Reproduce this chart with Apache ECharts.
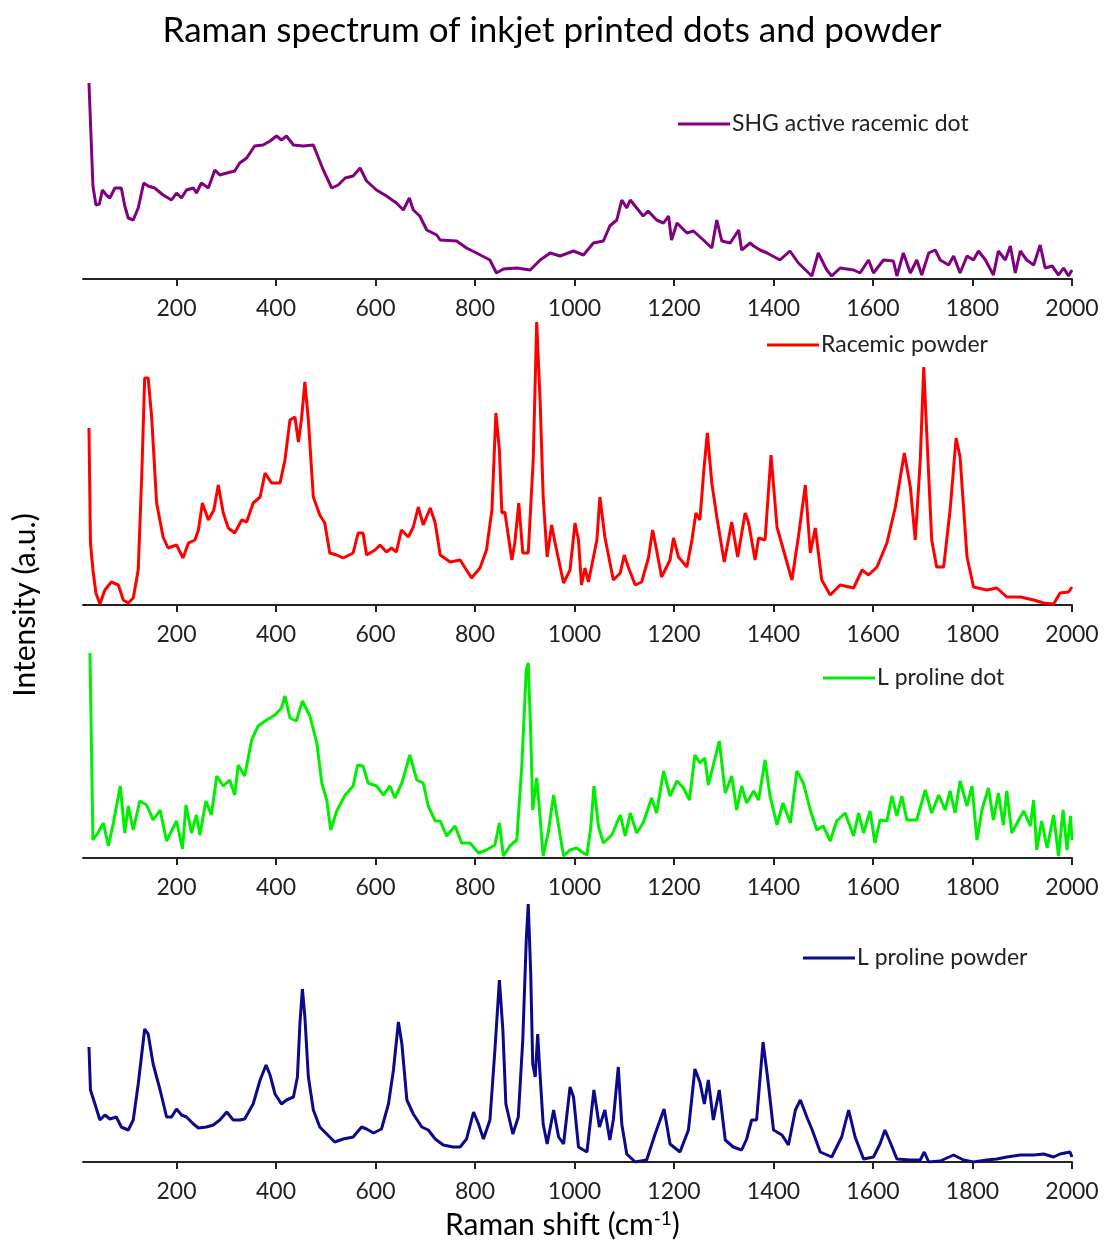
<!DOCTYPE html>
<html><head><meta charset="utf-8">
<script src="https://cdn.jsdelivr.net/npm/echarts@6/dist/echarts.min.js"></script>
<style>html,body{margin:0;padding:0;background:#fff}#c{width:1104px;height:1245px}</style>
</head><body><div id="c"></div>
<script>
// ---- data ----
const tickValues = [200,400,600,800,1000,1200,1400,1600,1800,2000];
const seriesNames = ['SHG active racemic dot','Racemic powder','L proline dot','L proline powder'];
const seriesColors = ['#800080','#ff0000','#00ee00','#0a0a8a'];

const shgDot = [[24,196],[32,93],[38,74],[45,75],[51,89],[59,84],[66,81],[76,91],[89,91],[96,73],[103,61],[113,59],[123,71],[134,96],[143,93],[156,91],[173,84],[190,79],[200,86],[210,81],[220,89],[234,91],[240,86],[250,96],[264,91],[277,109],[287,104],[301,106],[317,108],[327,116],[341,121],[357,133],[374,134],[388,138],[401,143],[411,139],[421,143],[435,134],[455,133],[475,134],[495,109],[512,91],[525,94],[539,101],[555,103],[569,111],[582,98],[602,89],[622,83],[642,76],[656,69],[668,81],[676,69],[689,63],[703,49],[723,44],[730,39],[763,38],[783,31],[803,26],[830,19],[843,6],[857,10],[884,11],[911,9],[931,19],[951,26],[971,23],[998,28],[1018,24],[1038,36],[1058,38],[1071,53],[1085,59],[1095,79],[1105,71],[1112,79],[1125,71],[1138,63],[1148,68],[1165,59],[1179,56],[1189,63],[1195,39],[1206,56],[1226,46],[1239,48],[1259,39],[1276,31],[1286,59],[1296,38],[1313,36],[1330,49],[1336,29],[1353,36],[1360,33],[1373,29],[1387,26],[1413,19],[1433,28],[1450,16],[1477,3],[1490,26],[1507,9],[1517,3],[1534,11],[1561,9],[1574,6],[1591,19],[1601,6],[1621,19],[1641,18],[1648,3],[1661,26],[1675,6],[1688,19],[1698,4],[1712,26],[1725,29],[1735,19],[1752,14],[1762,23],[1775,6],[1789,23],[1802,19],[1812,28],[1826,19],[1842,4],[1852,28],[1866,19],[1876,33],[1886,6],[1896,28],[1909,19],[1923,14],[1936,34],[1946,11],[1960,13],[1973,4],[1983,11],[1993,3],[2000,9]];

const racemicPowder = [[24,177],[27,62],[32,35],[38,12],[46,1],[56,15],[69,23],[83,20],[93,5],[103,2],[113,7],[123,35],[130,128],[136,227],[143,227],[150,188],[160,102],[173,68],[183,57],[200,60],[213,47],[224,62],[237,65],[244,75],[252,102],[264,85],[275,95],[284,120],[294,92],[304,77],[317,72],[331,85],[341,83],[354,102],[368,108],[378,132],[391,122],[408,122],[418,145],[428,185],[438,188],[445,163],[451,185],[458,223],[465,185],[475,108],[488,90],[498,82],[508,52],[522,50],[535,47],[555,52],[565,72],[575,72],[582,50],[599,55],[609,60],[622,53],[632,57],[642,53],[652,75],[666,68],[676,78],[686,98],[696,80],[710,97],[720,82],[730,50],[750,43],[770,45],[793,27],[810,37],[823,55],[834,95],[842,192],[849,155],[854,92],[860,93],[874,45],[880,62],[888,102],[896,52],[907,52],[917,145],[924,283],[931,202],[937,108],[945,48],[954,80],[961,62],[978,22],[991,35],[1001,82],[1008,65],[1014,20],[1021,37],[1028,23],[1045,65],[1051,108],[1061,68],[1078,25],[1092,32],[1100,50],[1108,38],[1122,20],[1135,23],[1149,48],[1157,75],[1165,55],[1175,28],[1192,45],[1199,67],[1209,48],[1226,38],[1236,65],[1244,92],[1252,85],[1260,135],[1267,172],[1276,122],[1286,88],[1301,43],[1316,83],[1328,48],[1343,92],[1350,82],[1363,45],[1370,67],[1383,65],[1395,150],[1407,78],[1420,55],[1437,25],[1450,68],[1464,120],[1474,52],[1484,77],[1497,25],[1514,10],[1534,20],[1561,17],[1578,35],[1591,30],[1608,38],[1628,62],[1645,98],[1663,152],[1675,118],[1685,65],[1695,145],[1702,238],[1708,172],[1718,65],[1728,38],[1742,38],[1755,95],[1767,167],[1775,148],[1789,48],[1802,18],[1829,15],[1849,17],[1869,8],[1896,8],[1923,5],[1943,2],[1963,1],[1976,12],[1993,13],[2000,18]];

const lProlineDot = [[26,205],[32,18],[42,25],[53,35],[63,12],[73,35],[87,72],[96,25],[103,52],[113,28],[126,57],[140,53],[153,38],[167,48],[180,17],[200,37],[212,9],[219,53],[230,25],[240,43],[247,23],[259,57],[270,43],[281,82],[294,72],[307,78],[317,63],[324,93],[337,82],[351,118],[364,132],[381,138],[398,143],[411,150],[418,162],[428,140],[441,137],[453,157],[468,142],[482,115],[492,75],[502,58],[510,28],[522,47],[539,63],[555,72],[564,93],[575,92],[585,75],[602,72],[616,63],[629,72],[639,60],[653,75],[669,103],[683,78],[696,75],[706,52],[720,37],[730,37],[743,22],[760,32],[773,15],[790,15],[807,5],[823,8],[840,13],[849,35],[857,2],[870,12],[884,18],[894,92],[903,188],[907,195],[912,125],[916,48],[924,80],[929,52],[937,2],[947,25],[958,63],[968,32],[978,2],[991,8],[1004,10],[1018,5],[1025,3],[1033,32],[1039,72],[1048,32],[1058,15],[1075,23],[1092,43],[1102,22],[1112,45],[1125,25],[1138,35],[1155,60],[1165,45],[1179,87],[1192,62],[1206,77],[1219,70],[1231,58],[1242,103],[1252,95],[1262,100],[1269,73],[1279,93],[1291,117],[1303,65],[1316,82],[1326,48],[1336,72],[1346,55],[1360,67],[1370,58],[1383,98],[1393,62],[1407,33],[1419,55],[1434,35],[1447,87],[1460,75],[1474,48],[1487,28],[1500,32],[1514,17],[1527,37],[1544,45],[1561,22],[1571,45],[1581,25],[1594,47],[1604,15],[1614,38],[1628,37],[1638,62],[1648,42],[1658,62],[1668,38],[1688,38],[1705,68],[1718,45],[1732,63],[1745,48],[1755,67],[1765,45],[1775,77],[1789,52],[1799,72],[1809,18],[1819,48],[1832,70],[1842,38],[1852,65],[1862,33],[1869,67],[1879,25],[1893,38],[1903,47],[1916,32],[1923,58],[1929,8],[1939,37],[1950,10],[1963,43],[1973,2],[1982,48],[1990,8],[1997,42],[2000,18]];

const lProlinePowder = [[24,115],[27,72],[36,58],[46,42],[56,47],[66,43],[79,45],[89,35],[103,32],[113,42],[123,78],[136,133],[143,128],[153,98],[167,72],[180,45],[190,45],[200,53],[210,47],[220,45],[234,38],[244,34],[260,35],[274,37],[287,42],[301,50],[314,42],[327,42],[337,43],[354,58],[368,82],[380,97],[388,87],[398,68],[411,58],[421,62],[435,65],[443,85],[448,138],[453,173],[458,145],[465,85],[475,52],[488,35],[502,28],[518,20],[535,23],[555,25],[572,35],[582,33],[596,29],[612,33],[626,58],[636,92],[646,140],[653,118],[663,62],[676,48],[693,35],[706,32],[720,23],[736,17],[756,15],[770,15],[783,23],[797,50],[807,38],[817,23],[830,42],[840,112],[849,182],[856,132],[862,58],[876,28],[887,45],[896,122],[903,222],[907,258],[912,188],[916,98],[921,85],[926,128],[931,85],[937,38],[945,18],[958,52],[968,25],[978,18],[991,75],[998,65],[1008,15],[1025,10],[1039,72],[1050,35],[1061,52],[1071,22],[1078,42],[1088,95],[1095,38],[1105,8],[1122,0],[1145,2],[1162,28],[1180,53],[1192,18],[1212,10],[1229,32],[1242,93],[1252,80],[1261,58],[1269,82],[1279,42],[1291,72],[1303,22],[1319,15],[1336,12],[1346,23],[1356,42],[1366,42],[1379,120],[1388,85],[1400,32],[1417,27],[1430,17],[1444,52],[1454,62],[1467,45],[1477,33],[1494,10],[1517,5],[1537,25],[1551,52],[1564,25],[1581,3],[1601,5],[1614,18],[1624,32],[1636,18],[1648,3],[1675,2],[1695,2],[1703,10],[1712,0],[1735,1],[1762,7],[1782,2],[1802,0],[1829,2],[1849,3],[1869,5],[1896,7],[1923,7],[1943,8],[1963,5],[1976,8],[1996,10],[2000,5]];

const seriesData = [shgDot, racemicPowder, lProlineDot, lProlinePowder];

// ---- layout ----
const FONT = 'Lato';
const panels = [
  {top:79, height:200, legendLeft:678, legendY:124},
  {top:305, height:300, legendLeft:767, legendY:345},
  {top:648, height:210, legendLeft:823, legendY:678},
  {top:892, height:270, legendLeft:803, legendY:958}
];

const chart = echarts.init(document.getElementById('c'), null, {renderer:'canvas'});
const option = {
  animation:false,
  backgroundColor:'#fff',
  title:{text:'Raman spectrum of inkjet printed dots and powder', left:'center', top:8,
    textStyle:{fontFamily:FONT, fontSize:35, fontWeight:'normal', color:'#000'}},
  grid: panels.map(p=>({left:83, right:32, top:p.top, height:p.height})),
  xAxis: panels.map((p,i)=>({type:'value', gridIndex:i, min:12, max:2000,
    axisLine:{show:true, onZero:false, lineStyle:{color:'#222', width:2}},
    axisTick:{show:true, customValues:tickValues, length:7, lineStyle:{color:'#222', width:2}},
    axisLabel:{customValues:tickValues, margin:18, fontFamily:FONT, fontSize:23, color:'#222',
      formatter:v=>String(v)},
    splitLine:{show:false}})),
  yAxis: panels.map((p,i)=>({type:'value', gridIndex:i, min:0, max:p.height, show:false})),
  legend: panels.map((p,i)=>({data:[seriesNames[i]], left:p.legendLeft, top:p.legendY-12, padding:0,
    itemWidth:52, itemHeight:3, icon:'rect', itemGap:0,
    textStyle:{fontFamily:FONT, fontSize:23, color:'#222', lineHeight:24, padding:[0,0,0,-3]}})),
  series: seriesData.map((d,i)=>({name:seriesNames[i], type:'line', xAxisIndex:i, yAxisIndex:i,
    data:d, showSymbol:false, symbol:'none', lineStyle:{color:seriesColors[i], width:3}, itemStyle:{color:seriesColors[i]}})),
  graphic:[
    {type:'text', left:445, top:1209, style:{text:'{a|Raman shift (cm}{s|-1}{a|)}', rich:{
      a:{fontFamily:FONT, fontSize:30, fill:'#000', color:'#000'},
      s:{fontFamily:FONT, fontSize:19, fill:'#000', color:'#000', verticalAlign:'top', padding:[0,0,14,0]}}}},
    {type:'text', x:25, y:605, rotation:Math.PI/2, style:{text:'Intensity (a.u.)', fontFamily:FONT, fontSize:30, fill:'#000', align:'center', verticalAlign:'middle'}}
  ]
};
chart.setOption(option);
</script></body></html>
